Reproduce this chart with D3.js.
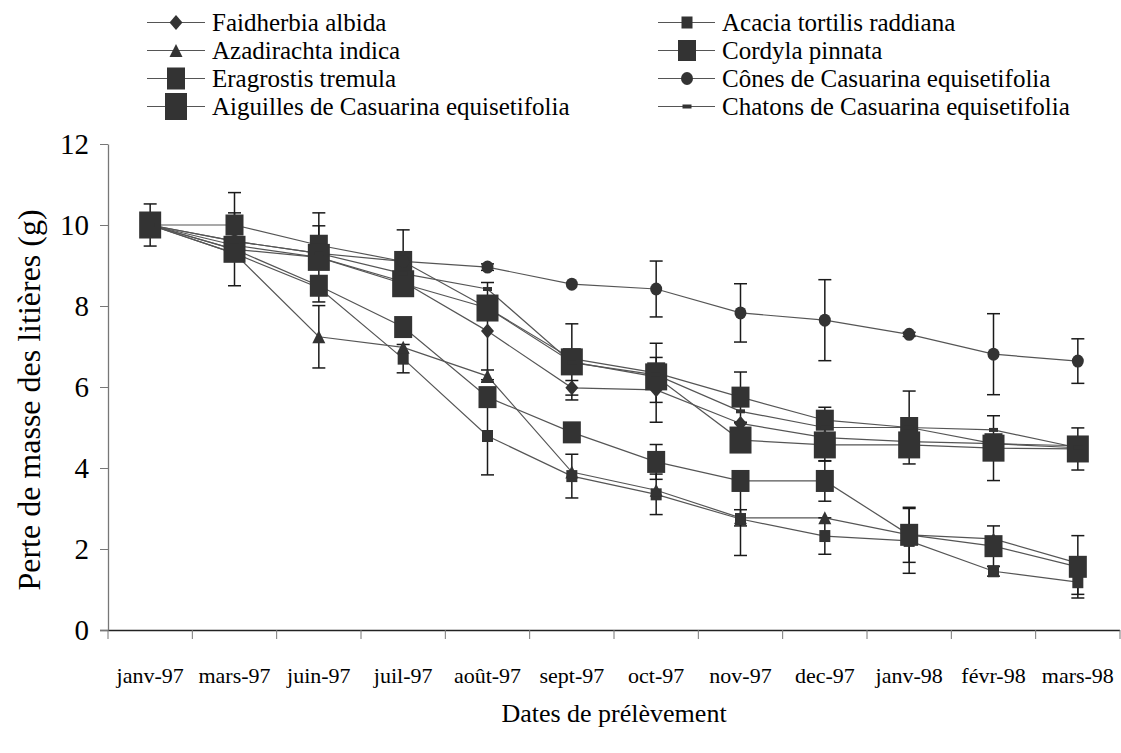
<!DOCTYPE html>
<html>
<head>
<meta charset="utf-8">
<script src="https://cdn.jsdelivr.net/npm/d3@7"></script>
</head>
<body style="margin:0">
<svg id="chart" width="1121" height="753"></svg>
<script>
// ---------- data ----------
const categories = ["janv-97","mars-97","juin-97","juil-97","août-97","sept-97","oct-97","nov-97","dec-97","janv-98","févr-98","mars-98"];
const yTicks = [0, 2, 4, 6, 8, 10, 12];

const faidherbia   = [10, 9.5, 9.2, 8.6, 7.38, 5.98, 5.93, 5.1, 4.75, 4.65, 4.6, 4.55];
const acacia       = [10, 9.3, 8.45, 6.7, 4.79, 3.8, 3.35, 2.74, 2.32, 2.2, 1.45, 1.18];
const azadirachta  = [10, 9.3, 7.24, 6.98, 6.27, 3.9, 3.45, 2.77, 2.77, 2.35, 2.25, 1.65];
const cordyla      = [10, 10.0, 9.5, 9.1, 7.95, 6.7, 6.35, 5.75, 5.18, 5.0, 4.6, 4.5];
const eragrostis   = [10, 9.4, 8.5, 7.48, 5.75, 4.88, 4.15, 3.68, 3.68, 2.35, 2.07, 1.56];
const cones        = [10, 9.6, 9.3, 9.1, 8.96, 8.54, 8.42, 7.83, 7.65, 7.3, 6.81, 6.64];
const aiguilles    = [10, 9.4, 9.2, 8.55, 7.95, 6.62, 6.25, 4.69, 4.57, 4.57, 4.49, 4.47];
const chatons      = [10, 9.6, 9.3, 8.8, 8.42, 6.6, 6.3, 5.4, 5.0, 5.0, 4.94, 4.5];

// error bar half-widths (0 = none drawn)
const faidherbiaErr  = [0, 0, 0, 0, 1.2, 0.18, 0.8, 0, 0, 0, 0, 0];
const acaciaErr      = [0, 0, 0, 0.35, 0.96, 0.54, 0.5, 0.9, 0.45, 0.8, 0.12, 0.3];
const azadirachtaErr = [0, 0, 0.77, 0, 0.15, 0, 0, 0.2, 0, 0, 0, 0];
const cordyaErr      = [0, 0.8, 0.48, 0.78, 0, 0, 0.73, 0.62, 0.32, 0.9, 0, 0];
const eragrostisErr  = [0, 0, 0, 0, 0, 0, 0.43, 0, 0.5, 0.68, 0.5, 0.77];
const conesErr       = [0, 0, 0, 0, 0.08, 0, 0.69, 0.72, 1.0, 0.05, 1.0, 0.55];
const aiguillesErr   = [0.52, 0.9, 1.1, 0, 0, 0.94, 0, 0, 0.4, 0, 0.8, 0.52];
const chatonsErr     = [0, 0, 0, 0, 0, 0, 0, 0, 0, 0, 0, 0];

const seriesNames = ["Faidherbia albida", "Acacia tortilis raddiana", "Azadirachta indica", "Cordyla pinnata",
                     "Eragrostis tremula", "Cônes de Casuarina equisetifolia", "Aiguilles de Casuarina equisetifolia",
                     "Chatons de Casuarina equisetifolia"];

// ---------- config (styles) ----------
const FONT = "Liberation Serif";
const shapes = {
  "Faidherbia albida": {type: "diamond", w: 13, h: 15},
  "Acacia tortilis raddiana": {type: "rect", w: 11, h: 12},
  "Azadirachta indica": {type: "triangle", w: 13, h: 13},
  "Cordyla pinnata": {type: "rect", w: 18, h: 21},
  "Eragrostis tremula": {type: "rect", w: 18, h: 22},
  "Cônes de Casuarina equisetifolia": {type: "ellipse", w: 12, h: 13},
  "Aiguilles de Casuarina equisetifolia": {type: "rect", w: 22, h: 27},
  "Chatons de Casuarina equisetifolia": {type: "rect", w: 9, h: 4}
};
const valueArrays = [faidherbia, acacia, azadirachta, cordyla, eragrostis, cones, aiguilles, chatons];
const errArrays = [faidherbiaErr, acaciaErr, azadirachtaErr, cordyaErr, eragrostisErr, conesErr, aiguillesErr, chatonsErr];
const series = seriesNames.map((n, i) => ({name: n, values: valueArrays[i], err: errArrays[i], shape: shapes[n]}));

const markFill = "#333333";
const lineColor = "#555555";

// ---------- scales ----------
const svg = d3.select("#chart");
const x = d3.scaleBand().domain(categories).range([108, 1120]);
const cx = c => x(c) + x.bandwidth() / 2;
const y = d3.scaleLinear().domain([0, 12]).range([630, 144]);

function txt(sel, size) { return sel.style("font-family", FONT).attr("font-size", size); }

// ---------- axes ----------
const xAxis = d3.axisBottom(x).tickSize(9).tickSizeOuter(0).tickFormat("");
const gx = svg.append("g").attr("transform", "translate(0,630)").call(xAxis);
gx.select(".domain").attr("stroke", "#222").attr("stroke-width", 1.3).attr("d", "M100,0.5H1120");
gx.selectAll(".tick line").attr("stroke", "#777").attr("transform", `translate(${-x.bandwidth()/2},0)`);
gx.append("line").attr("x1", 1120).attr("x2", 1120).attr("y1", 0).attr("y2", 9).attr("stroke", "#777");

categories.forEach(c => {
  txt(svg.append("text"), 22).attr("x", cx(c)).attr("y", 683).attr("text-anchor", "middle").text(c);
});

const yAxis = d3.axisLeft(y).tickValues(yTicks).tickSize(8).tickSizeOuter(0).tickFormat("");
const gy = svg.append("g").attr("transform", "translate(108,0)").call(yAxis);
gy.select(".domain").attr("stroke", "#777").attr("stroke-width", 1.3);
gy.selectAll(".tick line").attr("stroke", "#777");
yTicks.forEach(t => {
  txt(svg.append("text"), 29).attr("x", 89).attr("y", y(t)).attr("dy", "0.35em").attr("text-anchor", "end").text(t);
});

txt(svg.append("text"), 32).attr("transform", "translate(40,400) rotate(-90)").attr("text-anchor", "middle")
  .text("Perte de masse des litières (g)");
txt(svg.append("text"), 26).attr("x", 614).attr("y", 722).attr("text-anchor", "middle")
  .text("Dates de prélèvement");

// ---------- marker ----------
function drawMarker(g, s, px, py) {
  const {type, w, h} = s;
  if (type === "rect") {
    g.append("rect").attr("x", px - w/2).attr("y", py - h/2).attr("width", w).attr("height", h).attr("fill", markFill);
  } else if (type === "diamond") {
    g.append("path").attr("d", `M${px},${py-h/2}L${px+w/2},${py}L${px},${py+h/2}L${px-w/2},${py}Z`).attr("fill", markFill);
  } else if (type === "triangle") {
    g.append("path").attr("d", `M${px},${py-h/2}L${px+w/2},${py+h/2}L${px-w/2},${py+h/2}Z`).attr("fill", markFill);
  } else if (type === "ellipse") {
    g.append("ellipse").attr("cx", px).attr("cy", py).attr("rx", w/2).attr("ry", h/2).attr("fill", markFill);
  }
}

// ---------- lines ----------
const line = d3.line().x((d, i) => cx(categories[i])).y(d => y(d));
const gLines = svg.append("g");
series.forEach(s => {
  gLines.append("path").attr("d", line(s.values)).attr("fill", "none").attr("stroke", lineColor).attr("stroke-width", 1.2);
});

// ---------- error bars ----------
const gErr = svg.append("g");
series.forEach(s => {
  s.values.forEach((v, i) => {
    const e = s.err[i];
    if (!e) return;
    const px = cx(categories[i]);
    gErr.append("line").attr("x1", px).attr("x2", px).attr("y1", y(v + e)).attr("y2", y(v - e))
      .attr("stroke", "#1a1a1a").attr("stroke-width", 1.5);
    [v + e, v - e].forEach(t => {
      gErr.append("line").attr("x1", px - 6.5).attr("x2", px + 6.5).attr("y1", y(t)).attr("y2", y(t))
        .attr("stroke", "#1a1a1a").attr("stroke-width", 1.5);
    });
  });
});

// ---------- markers ----------
const gMarks = svg.append("g");
series.forEach(s => {
  s.values.forEach((v, i) => drawMarker(gMarks, s.shape, cx(categories[i]), y(v)));
});

// ---------- legend ----------
const legendCols = [
  {lineX1: 147, lineX2: 205, mark: 176, text: 212},
  {lineX1: 658, lineX2: 715, mark: 687, text: 722}
];
const gLeg = svg.append("g");
series.forEach((s, i) => {
  const col = legendCols[i % 2];
  const row = Math.floor(i / 2);
  const ly = 22.5 + row * 28;
  gLeg.append("line").attr("x1", col.lineX1).attr("x2", col.lineX2).attr("y1", ly).attr("y2", ly)
    .attr("stroke", lineColor).attr("stroke-width", 1.2);
  drawMarker(gLeg, s.shape, col.mark, ly);
  txt(gLeg.append("text"), 25).attr("x", col.text).attr("y", ly).attr("dy", "0.33em").text(s.name);
});
</script>
</body>
</html>
